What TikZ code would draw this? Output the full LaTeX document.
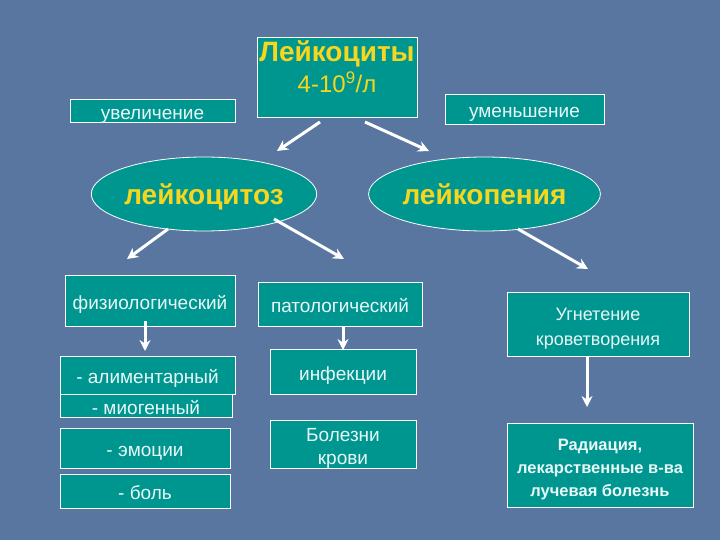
\documentclass[tikz,border=0pt]{standalone}
\usepackage{fontspec}
\setmainfont{Liberation Sans}
\usetikzlibrary{arrows.meta,shapes.geometric}

\definecolor{bgblue}{RGB}{88,118,160}
\definecolor{tealbox}{RGB}{0,150,144}
\definecolor{boxtext}{RGB}{232,248,248}
\definecolor{titleyellow}{RGB}{246,214,30}

% text block, set a little lower than the box centre
\newcommand{\lines}[1]{\raisebox{-4pt}[\height][\depth]{\begin{tabular}{@{}c@{}}#1\end{tabular}}}

\tikzset{
  box/.style={draw=white,line width=0.8pt,fill=tealbox,text=boxtext,
    inner sep=0pt,font=\fontsize{19}{23}\selectfont},
  oval/.style={ellipse,draw=white,line width=0.8pt,fill=tealbox,
    text=titleyellow,inner sep=0pt,font=\fontsize{28}{32}\selectfont\bfseries},
  arr/.style={draw=white,line width=3pt,-{Stealth[length=11pt,width=11pt]}}
}

\begin{document}
\begin{tikzpicture}[x=1pt,y=-1pt]
\fill[bgblue] (0,0) rectangle (720,540);
\useasboundingbox (0,0) rectangle (720,540);

% top
\node[box,minimum width=160pt,minimum height=80pt] (title) at (337,77) {};
\node[anchor=north,inner sep=0pt,text=titleyellow] (titletxt) at (337,40)
  {\begin{tabular}{@{}c@{}}\fontsize{28}{30}\selectfont\bfseries Лейкоциты\\[7pt]
   \fontsize{24}{28}\selectfont 4-10\textsuperscript{9}/л\end{tabular}};
\node[box,minimum width=165pt,minimum height=23pt] (uvel) at (152.5,111) {\lines{увеличение}};
\node[box,minimum width=159pt,minimum height=30pt] (umen) at (524.5,109) {\lines{уменьшение}};

% ovals
\node[oval,minimum width=176pt,minimum height=74pt] (lcz) at (204,194) {\lines{лейкоцитоз}};
\node[oval,minimum width=183pt,minimum height=74pt] (lpn) at (484.5,194) {\lines{лейкопения}};

% left column
\node[box,minimum width=170pt,minimum height=51pt] (phys) at (150,300.5) {\lines{физиологический}};
\node[box,minimum width=175pt,minimum height=38pt] (alim) at (147.5,375) {\lines{- алиментарный}};
\node[box,minimum width=172pt,minimum height=22pt] (miog) at (146,406) {\lines{- миогенный}};
\node[box,minimum width=170pt,minimum height=40pt] (emoc) at (145,448) {\lines{- эмоции}};
\node[box,minimum width=170pt,minimum height=34pt] (bol) at (145,491) {\lines{- боль}};

% middle column
\node[box,minimum width=164pt,minimum height=44pt] (path) at (340,304) {\lines{патологический}};
\node[box,minimum width=146pt,minimum height=45pt] (infek) at (343,371.5) {\lines{инфекции}};
\node[box,minimum width=146pt,minimum height=48pt] (bkrovi) at (343,444) {\lines{Болезни\\крови}};

% right column
\node[box,minimum width=182pt,minimum height=64pt,font=\fontsize{18}{25}\selectfont]
  (ugnet) at (598,324) {\lines{Угнетение\\кроветворения}};
\node[box,minimum width=186pt,minimum height=84pt,font=\fontsize{16.5}{23}\selectfont\bfseries]
  (rad) at (600,465) {\lines{Радиация,\\лекарственные в-ва\\лучевая болезнь}};

% arrow ends
\coordinate (t1) at (320,122); \coordinate (h1) at (277,151);
\coordinate (t2) at (365,122); \coordinate (h2) at (429,151);
\coordinate (t3) at (168,229); \coordinate (h3) at (127,259);
\coordinate (t4) at (274,219); \coordinate (h4) at (344,259);
\coordinate (t5) at (518,229); \coordinate (h5) at (588,269);
\coordinate (t6) at (145,321); \coordinate (h6) at (145,351);
\coordinate (t7) at (343,326); \coordinate (h7) at (343,350);
\coordinate (t8) at (587,356); \coordinate (h8) at (587,407);

\foreach \i in {1,...,8}
  \draw[arr] (t\i) -- (h\i);
\end{tikzpicture}
\end{document}
